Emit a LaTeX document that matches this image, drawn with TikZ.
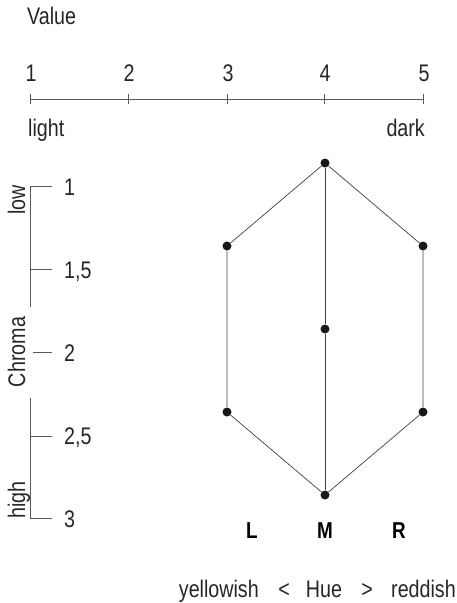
\documentclass[tikz,border=0pt]{standalone}
\usepackage{fontspec}
\setmainfont{Liberation Sans}[FakeStretch=0.82]
\begin{document}
\begin{tikzpicture}[x=1pt,y=-1pt,
  lbl/.style={inner sep=0pt,text=black!85,font=\fontsize{24}{28}\selectfont},
  bold/.style={lbl,font=\fontsize{23}{27}\selectfont\bfseries,text=black},
  axis/.style={draw=black!65,line width=0.8pt},
  edge/.style={draw=black!75,line width=0.7pt},
  pt/.style={circle,fill=black!90,inner sep=0pt,minimum size=9pt}]
\useasboundingbox (0,0) rectangle (457,603);
% Value axis
\node[lbl,anchor=base west] (value) at (27,24) {Value};
\foreach \i/\x in {1/30,2/128,3/227,4/324,5/423}{
  \coordinate (v\i) at (\x,99);
  \draw[axis] (\x,94) -- (\x,104);
  \node[lbl,anchor=base] (vl\i) at (\x+1,81) {\i};
}
\draw[axis] (v1) -- (v5);
\node[lbl,anchor=base west] (light) at (28,136) {light};
\node[lbl,anchor=base east] (dark) at (425,136) {dark};
% Chroma axis
\coordinate (c1) at (30,186);
\coordinate (c15) at (30,269);
\coordinate (cA) at (30,307);
\coordinate (cB) at (30,398);
\coordinate (c25) at (30,436);
\coordinate (c3) at (30,518);
\draw[axis] (52,186) -- (c1) -- (cA);
\draw[axis] (c15) -- (52,269);
\draw[axis] (33,352) -- (52,352);
\draw[axis] (cB) -- (c3) -- (52,518);
\draw[axis] (c25) -- (52,436);
\node[lbl,anchor=base west] (cl1) at (64,195) {1};
\node[lbl,anchor=base west] (cl15) at (64,278) {1,5};
\node[lbl,anchor=base west] (cl2) at (64,361) {2};
\node[lbl,anchor=base west] (cl25) at (64,444) {2,5};
\node[lbl,anchor=base west] (cl3) at (64,527) {3};
\node[lbl,rotate=90,anchor=base east] (low) at (25,185) {low};
\node[lbl,rotate=90,anchor=base] (chroma) at (25,352) {Chroma};
\node[lbl,rotate=90,anchor=base west] (high) at (25,519) {high};
% Hexagon
\node[pt] (t) at (325,163) {};
\node[pt] (ul) at (227,246) {};
\node[pt] (ur) at (423,246) {};
\node[pt] (m) at (325,329) {};
\node[pt] (ll) at (227,412) {};
\node[pt] (lr) at (423,412) {};
\node[pt] (b) at (325,495) {};
\draw[edge] (t) -- (ul) -- (ll) -- (b) -- (lr) -- (ur) -- (t);
\draw[edge] (t) -- (m) -- (b);
% Labels
\node[bold,anchor=base] (L) at (252,538) {L};
\node[bold,anchor=base] (M) at (325,538) {M};
\node[bold,anchor=base] (R) at (399,538) {R};
\node[lbl,anchor=base] (hue) at (324,597) {Hue};
\node[lbl,anchor=base] (lt) at (284,597) {<};
\node[lbl,anchor=base] (gt) at (367,597) {>};
\node[lbl,anchor=base east] (yel) at (259,597) {yellowish};
\node[lbl,anchor=base west] (red) at (391,597) {reddish};
\end{tikzpicture}
\end{document}
